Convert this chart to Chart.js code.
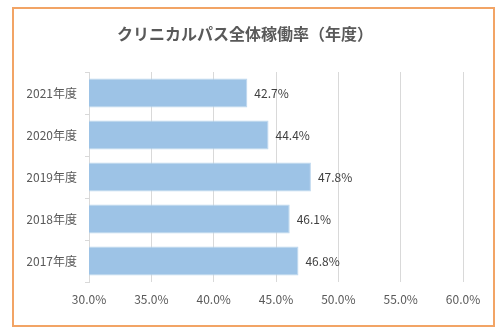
<!DOCTYPE html>
<html>
<head>
<meta charset="utf-8">
<script src="https://cdn.jsdelivr.net/npm/chart.js@4"></script>
<style>
  body { margin: 0; background: #fff; }
  #wrap { position: relative; width: 500px; height: 332px; }
  #frame { position: absolute; left: 12px; top: 7px; width: 479px; height: 316px;
           border: 2px solid #F2A465; pointer-events: none; }
</style>
</head>
<body>
<div id="wrap">
  <canvas id="chart" width="500" height="332"></canvas>
  <div id="frame"></div>
</div>
<script>
// === DATA ===
const chartTitle = "クリニカルパス全体稼働率（年度）";
const years = ["2021年度", "2020年度", "2019年度", "2018年度", "2017年度"];
const rates = [42.7, 44.4, 47.8, 46.1, 46.8];
const axisMin = 30, axisMax = 60, axisStep = 5;

const font = '"Noto Sans CJK JP", "Noto Sans", sans-serif';

// value labels at the end of each bar
const barLabels = {
    id: "barLabels",
    afterDatasetsDraw(chart) {
        let ctx = chart.ctx;
        let meta = chart.getDatasetMeta(0);
        ctx.save();
        ctx.font = "12px " + font;
        ctx.fillStyle = "#404040";
        ctx.textAlign = "left";
        ctx.textBaseline = "middle";
        meta.data.forEach((bar, i) => {
            ctx.fillText(rates[i].toFixed(1) + "%", bar.x + 7, bar.y);
        });
        ctx.restore();
    }
};

let ctx = document.getElementById("chart").getContext("2d");
new Chart(ctx, {
    type: "bar",
    data: {
        labels: years,
        datasets: [{
            data: rates,
            backgroundColor: "#9DC3E6",
            borderColor: "#BDD7EE",
            borderWidth: 1,
            barPercentage: 0.69,
            categoryPercentage: 1
        }]
    },
    options: {
        indexAxis: "y",
        responsive: false,
        animation: false,
        layout: { padding: { left: 27, right: 37, top: 0, bottom: 0 } },
        plugins: {
            legend: { display: false },
            tooltip: { enabled: false },
            title: {
                display: true,
                text: chartTitle,
                color: "#595959",
                font: { family: font, size: 16, weight: "bold" },
                padding: { top: 24, bottom: 28.8 }
            }
        },
        scales: {
            x: {
                min: axisMin,
                max: axisMax,
                ticks: {
                    stepSize: axisStep,
                    color: "#595959",
                    font: { family: font, size: 12 },
                    padding: 10,
                    callback: v => v.toFixed(1) + "%"
                },
                grid: { color: "#D9D9D9", drawTicks: false },
                border: { display: false },
                afterFit(scale) { scale.height = 50; }
            },
            y: {
                ticks: {
                    color: "#595959",
                    font: { family: font, size: 12 },
                    padding: 8
                },
                grid: { drawOnChartArea: false, drawTicks: true, tickLength: 4, color: "#D9D9D9" },
                border: { display: true, color: "#D9D9D9" },
                afterFit(scale) { scale.width = 62; }
            }
        }
    },
    plugins: [barLabels]
});
</script>
</body>
</html>
